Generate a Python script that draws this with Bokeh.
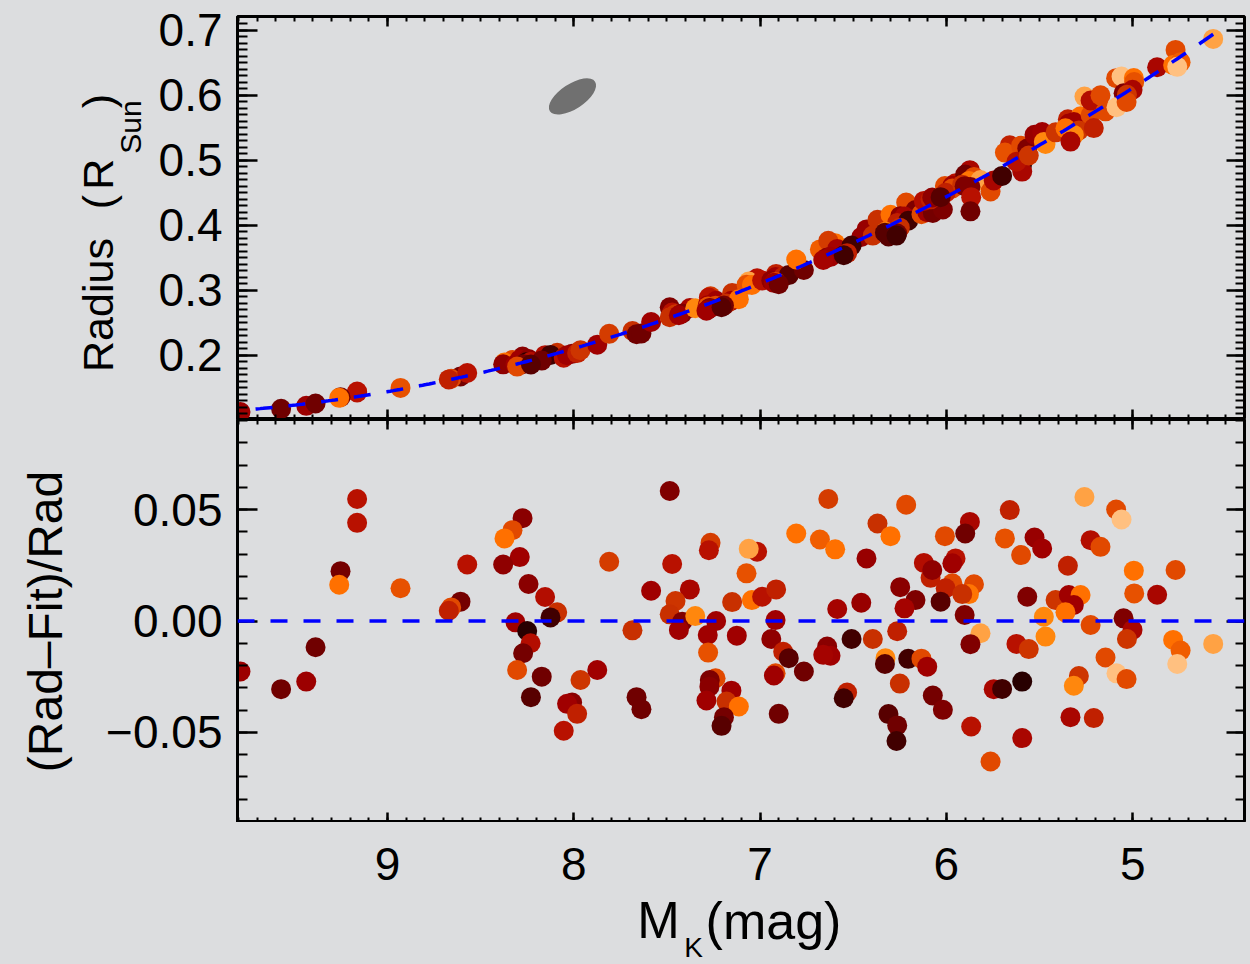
import numpy as np
from bokeh.plotting import figure
from bokeh.models import (ColumnDataSource, Range1d, LinearAxis, FixedTicker,
                          LinearColorMapper, CustomJSTickFormatter, Span)
from bokeh.layouts import column, row
from bokeh.core.properties import value
from bokeh.embed import file_html
from bokeh.resources import INLINE
from bokeh.transform import transform

# ---------------- data ----------------
mk_mag = [9.789, 9.571, 9.436, 9.386, 9.163, 9.163, 9.252, 9.259, 8.930, 8.608,
          8.658, 8.671, 8.572, 8.275, 8.329, 8.372, 8.290, 8.379, 8.243, 8.154,
          8.089, 8.125, 8.313, 8.250, 8.232, 8.272, 8.304, 8.172, 8.230, 8.054,
          8.009, 8.036, 7.982, 7.964, 7.874, 7.810, 7.685, 7.663, 7.637, 7.585,
          7.485, 7.472, 7.377, 7.454, 7.485, 7.418, 7.436, 7.348, 7.266, 7.275,
          7.236, 7.281, 7.279, 7.125, 7.150, 7.016, 7.061, 7.073, 7.044, 7.239,
          7.270, 7.272, 7.288, 7.154, 7.180, 7.114, 7.194, 7.207, 6.989, 6.914,
          6.917, 6.940, 6.876, 6.846, 6.917, 6.926, 6.765, 6.900, 6.806, 6.679,
          6.597, 6.634, 6.429, 6.586, 6.457, 6.640, 6.622, 6.661, 6.509, 6.395,
          6.533, 6.551, 6.370, 6.300, 6.216, 6.248, 6.166, 6.225, 6.264, 6.327,
          6.330, 6.205, 6.134, 6.103, 6.250, 6.311, 6.264, 6.268, 6.073, 6.019,
          6.121, 6.085, 6.076, 6.008, 5.951, 5.968, 5.874, 5.899, 5.968, 6.004,
          6.031, 5.852, 5.879, 5.915, 5.902, 5.817, 5.871, 5.867, 5.763, 5.746,
          5.701, 5.593, 5.593, 5.660, 5.686, 5.599, 5.566, 5.624, 5.558, 5.527,
          5.486, 5.477, 5.468, 5.348, 5.414, 5.343, 5.280, 5.316, 5.361, 5.226,
          5.259, 5.226, 5.173, 5.089, 5.060, 4.994, 4.992, 4.869, 4.770, 5.049,
          5.001, 5.031, 5.146, 5.087, 5.033, 5.289, 5.316, 5.334, 5.209, 4.783,
          4.743, 4.761, 4.568, 5.871]

rel_resid = [-0.0227, -0.0306, -0.0272, -0.0118, 0.0548, 0.0441, 0.0224, 0.0163, 0.0147, 0.0087,
             0.0061, 0.0046, 0.0254, 0.0462, 0.0408, 0.0371, 0.0287, 0.0254, 0.0166, 0.0108,
             0.0039, 0.0016, -0.0006, -0.0045, -0.0100, -0.0145, -0.0220, -0.0250, -0.0342, -0.0493,
             -0.0366, -0.0372, -0.0417, -0.0265, -0.0220, 0.0266, -0.0042, -0.0342, -0.0396, 0.0136,
             0.0584, 0.0256, 0.0142, 0.0090, 0.0030, -0.0003, -0.0040, 0.0022, 0.0351, 0.0318,
             0.0000, -0.0063, -0.0142, -0.0066, 0.0085, 0.0311, 0.0324, 0.0214, 0.0094, -0.0257,
             -0.0265, -0.0295, -0.0357, -0.0313, -0.0362, -0.0384, -0.0432, -0.0471, 0.0109, 0.0142,
             0.0004, -0.0081, -0.0138, -0.0167, -0.0235, -0.0245, -0.0227, -0.0417, 0.0393, 0.0366,
             0.0322, 0.0548, 0.0281, 0.0054, 0.0082, -0.0115, -0.0156, -0.0152, -0.0081, -0.0081,
             -0.0321, -0.0347, 0.0438, 0.0381, 0.0522, 0.0152, 0.0094, 0.0057, -0.0046, -0.0167,
             -0.0193, -0.0170, -0.0169, -0.0205, -0.0281, -0.0418, -0.0469, -0.0539, -0.0335, -0.0399,
             0.0261, 0.0194, 0.0229, 0.0381, 0.0281, 0.0259, 0.0445, 0.0393, 0.0169, 0.0147,
             0.0087, 0.0165, 0.0121, 0.0121, 0.0027, -0.0055, -0.0104, -0.0474, -0.0631, -0.0306,
             -0.0305, -0.0272, -0.0526, 0.0498, 0.0371, 0.0296, 0.0109, -0.0103, -0.0126, 0.0375,
             0.0326, 0.0019, -0.0070, 0.0248, 0.0094, 0.0117, 0.0117, 0.0072, 0.0039, -0.0018,
             0.0557, 0.0363, 0.0333, 0.0501, 0.0456, 0.0226, 0.0124, 0.0118, 0.0229, 0.0012,
             -0.0040, -0.0081, -0.0164, -0.0235, -0.0261, -0.0247, -0.0291, -0.0432, -0.0436, -0.0085,
             -0.0133, -0.0193, -0.0103, -0.1000]

# colour-coded third quantity (0 = darkest, 1 = lightest)
color_value = [0.38, 0.20, 0.38, 0.20, 0.50, 0.50, 0.22, 0.80, 0.72, 0.22,
               0.70, 0.55, 0.50, 0.30, 0.70, 0.80, 0.40, 0.32, 0.30, 0.48,
               0.60, 0.08, 0.40, 0.02, 0.48, 0.22, 0.70, 0.20, 0.14, 0.50,
               0.30, 0.40, 0.55, 0.62, 0.40, 0.65, 0.60, 0.20, 0.20, 0.40,
               0.26, 0.50, 0.44, 0.62, 0.60, 0.26, 0.40, 0.88, 0.65, 0.50,
               0.40, 0.40, 0.72, 0.40, 0.60, 0.50, 0.95, 0.72, 0.80, 0.70,
               0.25, 0.30, 0.40, 0.40, 0.60, 0.80, 0.22, 0.14, 0.50, 0.55,
               0.40, 0.32, 0.55, 0.14, 0.70, 0.40, 0.20, 0.20, 0.80, 0.75,
               0.80, 0.65, 0.36, 0.42, 0.36, 0.30, 0.40, 0.42, 0.08, 0.60,
               0.55, 0.08, 0.60, 0.80, 0.70, 0.30, 0.25, 0.42, 0.55, 0.88,
               0.14, 0.08, 0.70, 0.40, 0.60, 0.14, 0.20, 0.08, 0.22, 0.25,
               0.48, 0.55, 0.32, 0.70, 0.50, 0.40, 0.44, 0.20, 0.70, 0.55,
               0.14, 0.70, 0.82, 0.60, 0.26, 0.95, 0.26, 0.50, 0.70, 0.44,
               0.08, 0.02, 0.44, 0.55, 0.72, 0.70, 0.26, 0.50, 0.62, 0.36,
               0.40, 0.88, 0.88, 0.55, 0.62, 0.40, 0.80, 0.40, 0.80, 0.70,
               0.95, 0.48, 0.70, 0.70, 1.00, 0.80, 0.72, 0.44, 0.70, 0.26,
               0.44, 0.62, 0.70, 1.00, 0.70, 0.62, 0.88, 0.44, 0.55, 0.80,
               0.75, 1.00, 0.95, 0.20]

# polynomial radius - M_K relation (dashed curve): R = a0 + a1*M + a2*M^2
fit_coeffs = [1.9515, -0.3520, 0.01680]

# representative error ellipse (grey)
ellipse_center = [8.007, 0.5985]

x_major = [5, 6, 7, 8, 9]
top_y_major = [0.2, 0.3, 0.4, 0.5, 0.6, 0.7]
bot_y_major = [-0.05, 0.0, 0.05]

# ---------------- derived ----------------
mk_arr = np.array(mk_mag)
res_arr = np.array(rel_resid)
fit_at_pts = fit_coeffs[0] + fit_coeffs[1] * mk_arr + fit_coeffs[2] * mk_arr ** 2
radius = fit_at_pts / (1.0 - res_arr)   # since resid = (Rad - Fit)/Rad

src = ColumnDataSource(dict(mk=mk_arr, rad=radius, res=res_arr, c=color_value))

xs_fit = np.linspace(mk_arr.min(), mk_arr.max(), 300)
ys_fit = fit_coeffs[0] + fit_coeffs[1] * xs_fit + fit_coeffs[2] * xs_fit ** 2

# palette: black-red -> red -> orange -> light orange
stops = [(0.00, (0x20, 0x00, 0x00)), (0.10, (0x4a, 0x00, 0x00)), (0.20, (0x70, 0x00, 0x00)),
         (0.30, (0x8b, 0x00, 0x00)), (0.40, (0xa0, 0x00, 0x00)), (0.50, (0xb8, 0x10, 0x00)),
         (0.60, (0xc8, 0x30, 0x00)), (0.70, (0xe0, 0x48, 0x00)), (0.80, (0xff, 0x70, 0x00)),
         (0.90, (0xff, 0x8c, 0x10)), (0.95, (0xff, 0xa0, 0x40)), (1.00, (0xff, 0xc0, 0x80))]
palette = []
for t in np.linspace(0, 1, 256):
    for (t0, c0), (t1, c1) in zip(stops[:-1], stops[1:]):
        if t0 <= t <= t1:
            f = (t - t0) / (t1 - t0) if t1 > t0 else 0
            rgb = [int(round(a + (b - a) * f)) for a, b in zip(c0, c1)]
            palette.append("#%02x%02x%02x" % tuple(rgb))
            break
mapper = LinearColorMapper(palette=palette, low=0, high=1)

FONT = "Liberation Sans"
BG = "#dcdddf"

FRAME_L = 237            # page x of the panels' left edge
FRAME_W = 1007
XR = Range1d(9.805, 4.40)
x_minor = [round(v, 1) for v in np.arange(4.4, 9.81, 0.1)]


def add_axis(fig, side, ticks, minor, fmt=None, tick_in=10, minor_in=5,
             fixed=None, standoff=12):
    ax = LinearAxis(ticker=FixedTicker(ticks=ticks, minor_ticks=minor))
    ax.major_tick_in = tick_in
    ax.major_tick_out = 0
    ax.minor_tick_in = minor_in
    ax.minor_tick_out = 0
    ax.major_tick_line_width = 2.5
    ax.minor_tick_line_width = 2
    ax.major_tick_line_color = "black"
    ax.minor_tick_line_color = "black"
    ax.axis_line_width = 3
    ax.axis_line_color = "black"
    if fmt is None:
        ax.major_label_text_font_size = "0px"
        ax.major_label_standoff = 0
        ax.major_label_text_alpha = 0
    else:
        ax.formatter = CustomJSTickFormatter(code=fmt)
        ax.major_label_text_font = FONT
        ax.major_label_text_font_size = "46px"
        ax.major_label_text_color = "black"
        ax.major_label_standoff = standoff
    if fixed is not None:
        ax.fixed_location = fixed
    fig.add_layout(ax, side)
    return ax


def base_fig(width, height, yr, left, top, bottom):
    f = figure(width=width, height=height, x_range=XR, y_range=yr,
               output_backend="svg", toolbar_location=None,
               x_axis_location=None, y_axis_location=None,
               min_border_left=left, min_border_right=width - left - FRAME_W,
               min_border_top=top, min_border_bottom=bottom,
               background_fill_color=BG, border_fill_color=BG,
               outline_line_color="black", outline_line_width=3)
    f.grid.visible = False
    return f


def blank_fig(width, height, x0, x1, ytop, ybot, right=0):
    """Text-only figure; data coordinates are page pixels (y negated)."""
    f = figure(width=width, height=height, x_range=Range1d(x0, x1),
               y_range=Range1d(-ybot, -ytop), output_backend="svg",
               toolbar_location=None, x_axis_location=None, y_axis_location=None,
               min_border_left=0, min_border_right=right,
               min_border_top=0, min_border_bottom=0,
               background_fill_color=BG, border_fill_color=BG,
               outline_line_color=None)
    f.grid.visible = False
    return f


def txt(fig, x, y, s, size, angle=0.0, **kw):
    fig.text(x=[x], y=[-y], text=[s], angle=angle, text_align="center",
             text_baseline="middle", text_font=value(FONT),
             text_font_size=value(size), text_color="black", **kw)


R90 = np.pi / 2

# ---------------- top panel (frame x 237..1244, y 16..419) ----------------
TY = Range1d(0.1015, 0.7215)
top = base_fig(1100, 419, TY, FRAME_L - 150, 16, 0)
ty_minor = [round(v, 2) for v in np.arange(0.11, 0.72, 0.01)]
add_axis(top, "left", top_y_major, ty_minor, fmt="return tick.toFixed(1);",
         tick_in=20, minor_in=10, standoff=15)
add_axis(top, "right", top_y_major, ty_minor, tick_in=18, minor_in=9, fixed=XR.end)
add_axis(top, "above", x_major, x_minor, fixed=TY.end)
add_axis(top, "below", x_major, x_minor, fixed=TY.start)

top.ellipse(x=[ellipse_center[0]], y=[ellipse_center[1]], width=54, height=25,
            angle=0.58, width_units="screen", height_units="screen",
            fill_color="#707070", line_color=None)
top.scatter("mk", "rad", source=src, size=20, marker="circle",
            fill_color=transform("c", mapper), line_color=None)
top.line(xs_fit, ys_fit, line_color="#0000ff", line_width=3.5, line_dash="17 16")

# title area left of the top panel (page x 0..150, y 0..419)
ttop = blank_fig(150, 419, 0, 150, 0, 419)
txt(ttop, 97, 300, "Radius", "43px", R90)
txt(ttop, 97, 193, "(", "43px", R90)
txt(ttop, 97, 164, "R", "43px", R90)
txt(ttop, 130, 115, "Sun", "30px", R90)
txt(ttop, 97, 88, ")", "43px", R90)

# ---------------- bottom panel (frame x 237..1244, y 419..822) ----------------
BY = Range1d(-0.0905, 0.0905)
bot = base_fig(1155, 403, BY, FRAME_L - 95, 0, 0)
by_minor = [round(v, 2) for v in np.arange(-0.09, 0.0905, 0.01)]
add_axis(bot, "left", bot_y_major, by_minor,
         fmt="var s = Math.abs(tick).toFixed(2); return tick < -1e-9 ? '\u2212' + s : s;",
         tick_in=20, minor_in=10, standoff=15)
add_axis(bot, "right", bot_y_major, by_minor, tick_in=18, minor_in=9, fixed=XR.end)
add_axis(bot, "above", x_major, x_minor, fixed=BY.end)
add_axis(bot, "below", x_major, x_minor, fixed=BY.start)

bot.scatter("mk", "res", source=src, size=20, marker="circle",
            fill_color=transform("c", mapper), line_color=None)
bot.add_layout(Span(location=0, dimension="width", line_color="#0000ff",
                    line_width=3.5, line_dash="17 16"))

# title area left of the bottom panel (page x 0..95, y 419..822)
tbot = blank_fig(95, 403, 0, 95, 419, 822)
txt(tbot, 45, 621, "(Rad\u2013Fit)/Rad", "48px", R90)

# ---------------- strip below: x tick labels + x title (page y 822..964) ----------
px_per_unit = FRAME_W / (XR.start - XR.end)
xt = figure(width=1250, height=142,
            x_range=Range1d(XR.start + FRAME_L / px_per_unit, XR.end),
            y_range=Range1d(-964, -822), output_backend="svg",
            toolbar_location=None, x_axis_location=None, y_axis_location=None,
            min_border_left=0, min_border_right=1250 - FRAME_L - FRAME_W,
            min_border_top=0, min_border_bottom=0,
            background_fill_color=BG, border_fill_color=BG, outline_line_color=None)
xt.grid.visible = False
xt.extra_x_ranges = {"px": Range1d(0, FRAME_L + FRAME_W)}
xlab = LinearAxis(ticker=FixedTicker(ticks=x_major, minor_ticks=[]),
                  formatter=CustomJSTickFormatter(code="return tick.toFixed(0);"),
                  fixed_location=-822, major_tick_in=0, major_tick_out=0,
                  minor_tick_in=0, minor_tick_out=0, axis_line_color=None,
                  major_tick_line_color=None, minor_tick_line_color=None,
                  major_label_standoff=25, major_label_text_font=FONT,
                  major_label_text_font_size="46px", major_label_text_color="black")
xt.add_layout(xlab, "below")
txt(xt, 658, 920, "M", "51px", x_range_name="px")
txt(xt, 693, 947, "K", "28px", x_range_name="px")
txt(xt, 773, 920, "(mag)", "52px", x_range_name="px")

r1 = row(ttop, top, styles={"background-color": BG})
r2 = row(tbot, bot, styles={"background-color": BG})
layout = column(r1, r2, xt, styles={"background-color": BG})
open("out.html", "w").write(file_html(layout, INLINE))
